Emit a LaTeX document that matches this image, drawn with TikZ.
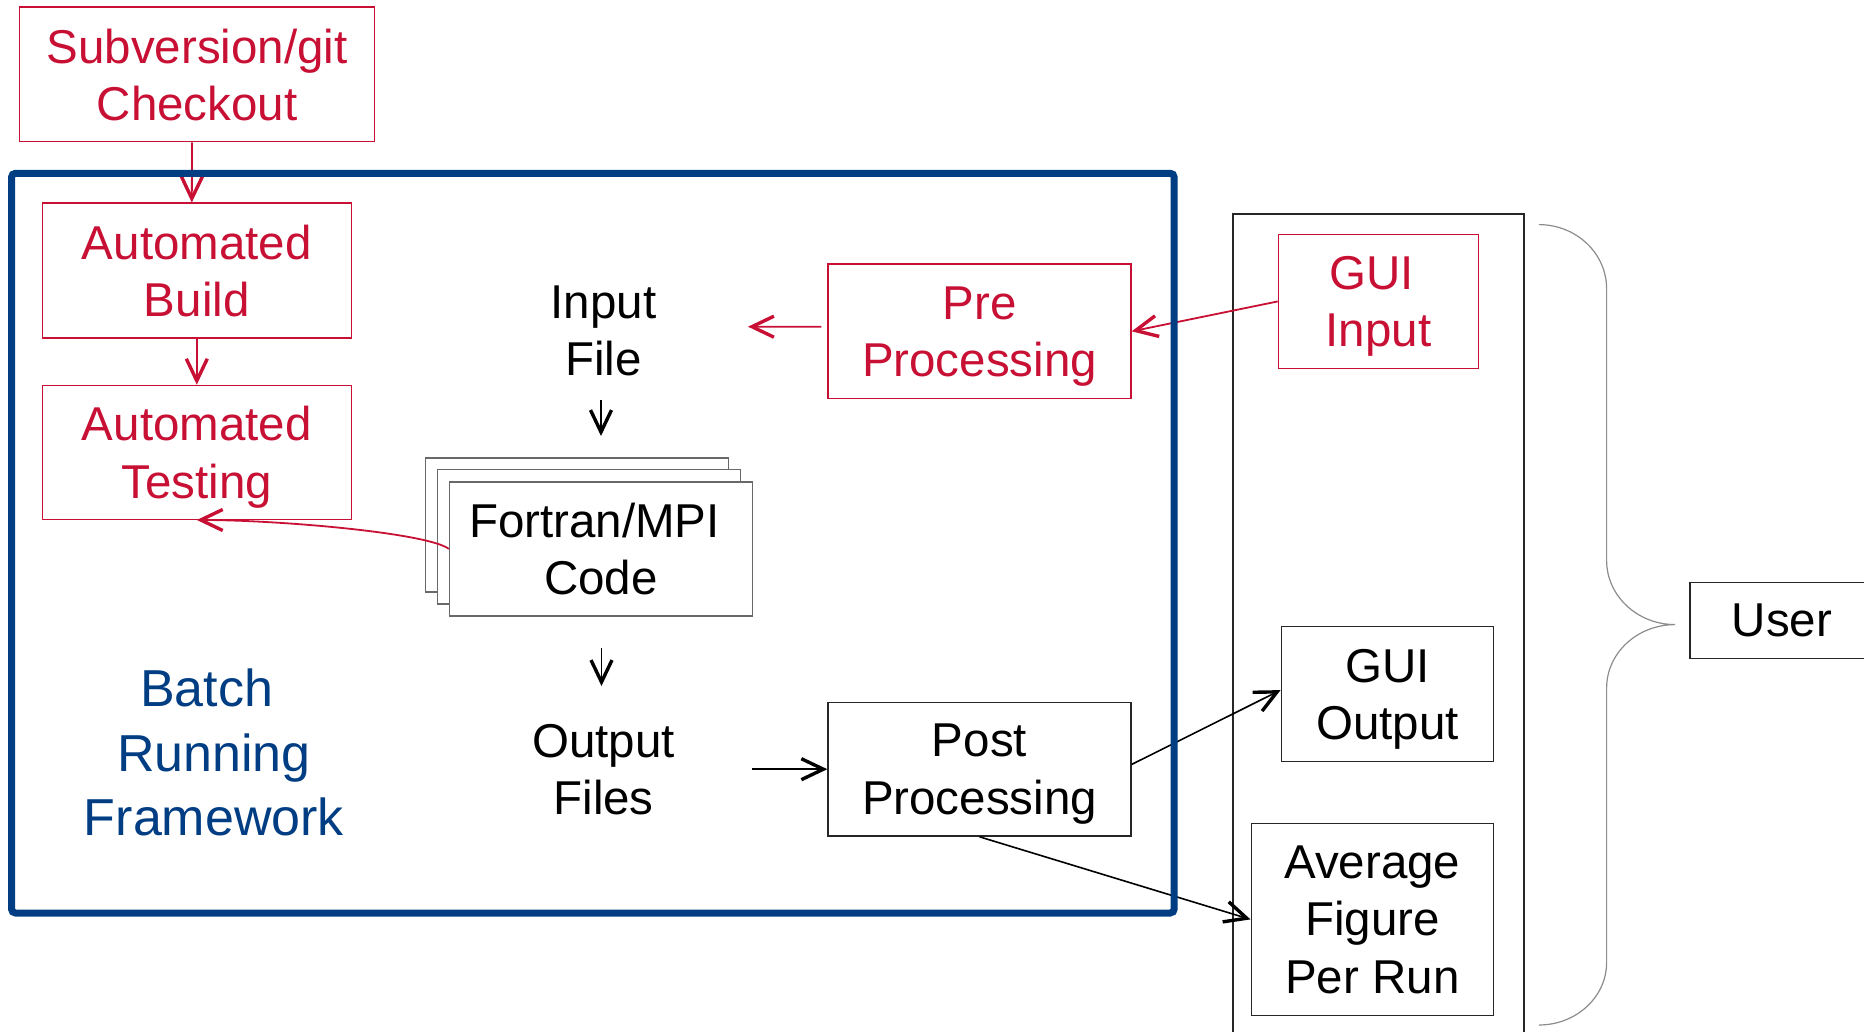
\documentclass[tikz,border=0pt]{standalone}
\usepackage{fontspec}
\setmainfont{Liberation Sans}
\usetikzlibrary{arrows.meta}
\definecolor{flowred}{RGB}{200,16,52}
\definecolor{frameblue}{RGB}{0,61,130}
\definecolor{edgegray}{RGB}{105,105,105}
\definecolor{bracegray}{RGB}{140,140,140}
\newcommand{\tsp}{\hspace*{0.278em}}
\begin{document}
\begin{tikzpicture}[x=0.5pt,y=-0.5pt,
  lbl/.style={font=\fontsize{23.75pt}{28.65pt}\selectfont, align=center,
    text depth=-2.4pt, inner sep=0pt},
  redbox/.style={lbl, draw=flowred, line width=0.7pt, text=flowred, fill=white},
  blkbox/.style={lbl, draw=black!85, line width=0.7pt, fill=white},
  stackbox/.style={blkbox, draw=edgegray, minimum width=151.55pt, minimum height=67.1pt},
  barbtip/.tip={Straight Barb[length=11pt,width=10.5pt,line width=1.7pt]},
  redarrow/.style={draw=flowred, line width=0.9pt, -barbtip},
  blkarrow/.style={draw=black, line width=0.8pt, -barbtip},
]
\useasboundingbox (0,0) rectangle (1864,1032);
\clip (0,0) rectangle (1864,1032);

% version control and automated build chain
\node[redbox, minimum width=177.65pt, minimum height=67.35pt] (sub) at (197.05,74.45) {Subversion/git\\Checkout};
\node[redbox, minimum width=154.6pt, minimum height=67.35pt] (build) at (196.8,270.55) {Automated\\Build};
\node[redbox, minimum width=154.6pt, minimum height=66.95pt] (test) at (196.8,452.35) {Automated\\Testing};

% simulation pipeline
\node[lbl] (infile) at (603.5,331) {Input\\File};
\node[stackbox] (back) at (577.05,524.95) {};
\node[stackbox] (mid) at (589.05,536.85) {};
\node[stackbox] (code) at (601.05,548.9) {Fortran/MPI\tsp\\Code};
\node[lbl] (outfiles) at (603.6,769.3) {Output\\Files};
\node[redbox, minimum width=151.5pt, minimum height=67.35pt] (pre) at (979.5,331.35) {Pre\\Processing};
\node[blkbox, minimum width=151.5pt, minimum height=66.9pt] (post) at (979.5,769.2) {Post\\Processing};

\node[lbl, font=\fontsize{26pt}{32.25pt}\selectfont, text=frameblue]
  (batch) at (214,752.5) {Batch\tsp\\Running\tsp\\Framework};

% user interface column
\draw[black!85, line width=1pt] (1232.6,1045) -- (1232.6,213.7) -- (1524,213.7) -- (1524,1045);
\node[redbox, minimum width=100.15pt, minimum height=67.15pt] (guiin) at (1378.55,301.45) {GUI\tsp\\Input};
\node[blkbox, minimum width=106.1pt, minimum height=67.4pt] (guiout) at (1387.4,694.1) {GUI\\Output};
\node[blkbox, minimum width=121.15pt, minimum height=95.9pt] (avg) at (1372.35,919.4) {Average\\Figure\tsp\\Per Run};

\node[blkbox, minimum width=92pt, minimum height=38.05pt] (user) at (1782,620.25) {User};

% free ends of the short pipeline arrows
\coordinate (inS) at (601,400);
\coordinate (inE) at (601,436);
\coordinate (outS) at (601.5,648);
\coordinate (outE) at (601.5,686);
\coordinate (ofS) at (752,769.2);
\coordinate (preTip) at (748,326.7);

% connectors
\draw[redarrow] ([xshift=-2.5pt]sub.south) -- ([xshift=-2.5pt]build.north);
\draw[redarrow] (build.south) -- (test.north);
\draw[redarrow] (code.west) .. controls (428,533) and (280,520) .. (test.south);
\draw[redarrow] ([shift={(-6,-4.65)}]pre.west) -- (preTip);
\draw[redarrow] (guiin.west) -- (pre.east);
\draw[blkarrow] (inS) -- (inE);
\draw[blkarrow] (outS) -- (outE);
\draw[blkarrow] (ofS) -- (post.west);
\draw[blkarrow] ([yshift=2.4pt]post.east) -- ([yshift=2pt]guiout.west);
\draw[blkarrow] (post.south) -- (avg.west);

% batch framework outline
\draw[frameblue, line width=3.5pt, rounded corners=2pt] (11.5,173.3) rectangle (1174.2,913);

% brace grouping the interface outputs under the user
\draw[bracegray, line width=0.6pt]
  (1538.8,224.6) .. controls (1576.2,224.6) and (1606.6,253.3) .. (1606.6,288.7)
  -- (1606.6,560.4) .. controls (1606.6,595.8) and (1637.3,624.6) .. (1675.2,624.6)
  .. controls (1637.3,624.6) and (1606.6,653) .. (1606.6,688)
  -- (1606.6,962.6) .. controls (1606.6,997) and (1576.2,1025) .. (1538.8,1025);
\end{tikzpicture}
\end{document}
